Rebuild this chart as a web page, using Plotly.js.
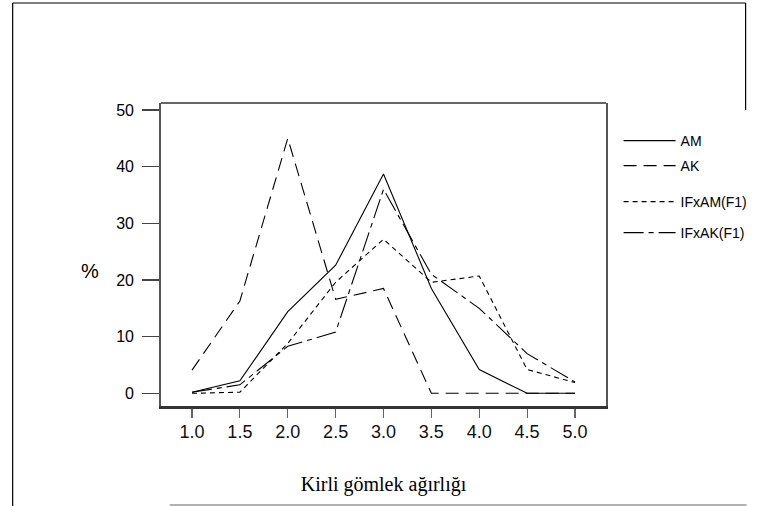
<!DOCTYPE html>
<html>
<head>
<meta charset="utf-8">
<script src="https://cdn.plot.ly/plotly-3.0.1.min.js"></script>
<style>html,body{margin:0;padding:0;background:#fff;}#chart{width:765px;height:506px;}</style>
</head>
<body>
<div id="chart"></div>
<script>
// Data
var weights = [1.0, 1.5, 2.0, 2.5, 3.0, 3.5, 4.0, 4.5, 5.0];
var seriesNames = ['AM', 'AK', 'IFxAM(F1)', 'IFxAK(F1)'];
var valuesAM    = [0.2, 2.2, 14.4, 22.6, 38.7, 18.5, 4.2, 0, 0];
var valuesAK    = [4.1, 16.3, 45.0, 16.6, 18.5, 0, 0, 0, 0];
var valuesIFxAM = [0, 0.2, 8.8, 19.6, 27.2, 19.6, 20.7, 4.2, 1.9];
var valuesIFxAK = [0.2, 1.5, 8.3, 10.8, 36.0, 21.0, 15.0, 7.0, 2.0];
var yTicks = [0, 10, 20, 30, 40, 50];

var dashes = ['solid', '13px,7px', '5px,4px', '20px,5px,5px,5px'];
var allValues = [valuesAM, valuesAK, valuesIFxAM, valuesIFxAK];
var legendIds = ['legend', 'legend2', 'legend3', 'legend4'];

var traces = allValues.map(function (v, i) {
  return {
    x: weights, y: v, type: 'scatter', mode: 'lines',
    name: seriesNames[i],
    line: {color: '#000', width: 1.1, dash: dashes[i]},
    legend: legendIds[i]
  };
});

// plot area: x 161..620, y 103..406 (px)
function px(X) { return (X - 161) / 459; }
function py(Y) { return (406 - Y) / 303; }

var legendY = [141, 166, 202, 233];
var legendFont = {family: 'Liberation Sans, Arial, sans-serif', size: 14, color: '#000'};
function mkLegend(i) {
  return {
    x: px(633), xanchor: 'left', y: py(legendY[i]), yanchor: 'middle',
    bgcolor: 'rgba(0,0,0,0)', borderwidth: 0, font: legendFont, itemwidth: 52,
    tracegroupgap: 0
  };
}

var layout = {
  width: 765, height: 506,
  margin: {l: 161, r: 145, t: 103, b: 100},
  paper_bgcolor: '#fff', plot_bgcolor: '#fff',
  showlegend: true,
  legend: mkLegend(0), legend2: mkLegend(1), legend3: mkLegend(2), legend4: mkLegend(3),
  xaxis: {
    range: [0.676, 5.324], tickvals: weights, tickformat: '.1f',
    showgrid: false, zeroline: false,
    showline: true, linecolor: '#333', linewidth: 2.5, mirror: false,
    ticks: 'outside', ticklen: 9, tickwidth: 1.2, tickcolor: '#666',
    ticklabelstandoff: -1,
    tickfont: {family: 'Liberation Sans Narrow, Arial Narrow, sans-serif', size: 18, color: '#111'},
    title: {text: 'Kirli gömlek ağırlığı', standoff: 36,
            font: {family: 'Liberation Serif, Times New Roman, serif', size: 20, color: '#000'}}
  },
  yaxis: {
    range: [-2.24, 51.24], tickvals: yTicks,
    showgrid: false, zeroline: false,
    showline: true, linecolor: '#555', linewidth: 1.8, mirror: true,
    ticks: 'outside', ticklen: 17, tickwidth: 1.5, tickcolor: '#444',
    ticklabelstandoff: 5,
    tickfont: {family: 'Liberation Sans, Arial, sans-serif', size: 16, color: '#000'}
  },
  annotations: [
    {text: '%', xref: 'paper', yref: 'paper', x: px(88), y: py(271),
     xanchor: 'center', yanchor: 'middle', showarrow: false,
     font: {family: 'Liberation Sans, Arial, sans-serif', size: 20, color: '#000'}}
  ],
  shapes: [
    // top edge of plot frame
    {type: 'line', xref: 'paper', yref: 'paper', x0: 0, x1: 1, y0: 1, y1: 1,
     line: {color: '#333', width: 1.5}},
    // outer border
    {type: 'line', xref: 'paper', yref: 'paper', x0: px(8), x1: px(764), y0: py(3), y1: py(3),
     line: {color: '#000', width: 1.2}},
    {type: 'line', xref: 'paper', yref: 'paper', x0: px(8), x1: px(8), y0: py(3), y1: py(506),
     line: {color: '#000', width: 1.2}},
    {type: 'line', xref: 'paper', yref: 'paper', x0: px(764), x1: px(764), y0: py(3), y1: py(110),
     line: {color: '#000', width: 1.2}},
    {type: 'line', xref: 'paper', yref: 'paper', x0: px(170), x1: px(765), y0: py(505), y1: py(505),
     line: {color: '#999', width: 1.5}}
  ]
};

Plotly.newPlot('chart', traces, layout, {displayModeBar: false, staticPlot: true});
</script>
</body>
</html>
